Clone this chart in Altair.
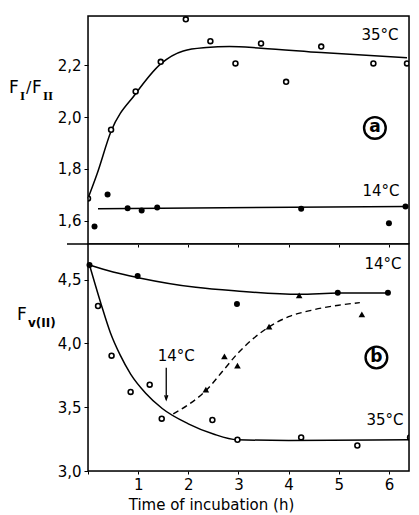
import altair as alt
import pandas as pd

FONT = "DejaVu Sans"

# ---------------- top panel : F_I / F_II ----------------
top35_t = [0.0, 0.46, 0.95, 1.45, 1.95, 2.44, 2.94, 3.45, 3.95, 4.65, 5.69, 6.36]
top35_v = [1.686, 1.951, 2.099, 2.213, 2.377, 2.293, 2.207, 2.284, 2.136, 2.272, 2.207, 2.207]
top14_t = [0.13, 0.39, 0.79, 1.07, 1.38, 4.25, 6.0, 6.33]
top14_v = [1.578, 1.701, 1.648, 1.639, 1.651, 1.646, 1.590, 1.655]
topc35_t = [0.0, 0.18, 0.46, 0.95, 1.45, 1.9, 2.36, 2.82, 3.45, 4.65, 6.36]
topc35_v = [1.686, 1.78, 1.945, 2.09, 2.205, 2.255, 2.268, 2.272, 2.266, 2.249, 2.229]
topc14_t = [0.2, 6.33]
topc14_v = [1.646, 1.655]
top_lab_t = [5.82, 5.84]
top_lab_v = [2.317, 1.716]
top_lab_s = ["35°C", "14°C"]
top_mark_t = [5.72]
top_mark_v = [1.958]
top_mark_s = ["a"]
top_yticks = [1.6, 1.7, 1.8, 1.9, 2.0, 2.1, 2.2, 2.3]

# ---------------- bottom panel : F_v(II) ----------------
bot14_t = [0.03, 0.99, 2.97, 4.98, 5.98]
bot14_v = [4.615, 4.529, 4.31, 4.398, 4.398]
tri_t = [2.35, 2.72, 2.98, 3.61, 4.21, 5.46]
tri_v = [3.638, 3.898, 3.826, 4.133, 4.377, 4.229]
bot35_t = [0.2, 0.47, 0.85, 1.23, 1.47, 2.48, 2.98, 4.25, 5.37, 6.42]
bot35_v = [4.294, 3.904, 3.62, 3.677, 3.41, 3.40, 3.245, 3.263, 3.20, 3.263]
botc14_t = [0.03, 0.5, 1.0, 2.15, 2.97, 4.21, 5.0, 6.0]
botc14_v = [4.615, 4.56, 4.516, 4.44, 4.411, 4.385, 4.395, 4.395]
botc35_t = [0.03, 0.26, 0.45, 0.64, 0.85, 1.15, 1.48, 2.0, 2.5, 2.97, 4.0, 6.44]
botc35_v = [4.615, 4.31, 4.08, 3.91, 3.76, 3.61, 3.49, 3.37, 3.29, 3.245, 3.24, 3.245]
dash_t = [1.7, 2.0, 2.35, 2.7, 2.98, 3.3, 3.61, 4.0, 4.45, 5.0, 5.42]
dash_v = [3.448, 3.52, 3.63, 3.79, 3.92, 4.04, 4.13, 4.21, 4.26, 4.30, 4.32]
arrow_t = [1.56]
arrow_v1 = [3.81]
arrow_v2 = [3.56]
bot_lab_t = [5.88, 5.92, 1.76]
bot_lab_v = [4.62, 3.396, 3.904]
bot_lab_s = ["14°C", "35°C", "14°C"]
bot_mark_t = [5.75]
bot_mark_v = [3.89]
bot_mark_s = ["b"]
bot_yticks = [3.0, 3.5, 4.0, 4.5]
xticks = [0, 1, 2, 3, 4, 5, 6]

W = 321
TOP_H = 228
BOT_H = 227
XDOM = [0, 6.4]

def df(t, v, **extra):
    d = pd.DataFrame({"t": t, "v": v})
    for k, val in extra.items():
        d[k] = val
    return d

one = pd.DataFrame({"a": [0]})

def frame(h):
    return alt.Chart(one).mark_rect(fill=None, filled=False, stroke="black", strokeWidth=1.5).encode(
        x=alt.value(0), x2=alt.value(W), y=alt.value(0), y2=alt.value(h))

def tmark(text, x, y, size, font=FONT, weight="normal"):
    return alt.Chart(one).mark_text(text=text, font=font, fontSize=size, fontWeight=weight,
                                    color="black", align="left", baseline="middle").encode(
        x=alt.value(x), y=alt.value(y))

# ---------- top panel ----------
xs_top = alt.X("t:Q", scale=alt.Scale(domain=XDOM, nice=False),
               axis=alt.Axis(values=xticks, labels=False, title=None, ticks=True,
                             tickSize=3, domain=False, tickColor="black", grid=False))
ys_top = alt.Y("v:Q", scale=alt.Scale(domain=[1.51, 2.39], nice=False, zero=False),
               axis=alt.Axis(values=top_yticks, title=None, domain=False, grid=False,
                             tickSize=4, tickColor="black", labelColor="black",
                             labelFont=FONT, labelFontSize=15, labelPadding=3,
                             labelExpr="round(datum.value*10) % 2 == 0 ? replace(format(datum.value, '.1f'), '.', ',') : ''"))

t_c35 = alt.Chart(df(topc35_t, topc35_v)).mark_line(
    color="black", strokeWidth=1.5, interpolate="monotone").encode(x=xs_top, y=ys_top)
t_c14 = alt.Chart(df(topc14_t, topc14_v)).mark_line(
    color="black", strokeWidth=1.5).encode(x="t:Q", y="v:Q")
t_p35 = alt.Chart(df(top35_t, top35_v)).mark_point(
    shape="circle", filled=True, fill="white", stroke="black", strokeWidth=1.6,
    size=24, opacity=1, clip=True).encode(x="t:Q", y="v:Q")
t_p14 = alt.Chart(df(top14_t, top14_v)).mark_point(
    shape="circle", filled=True, color="black", size=36, opacity=1, clip=True).encode(x="t:Q", y="v:Q")
t_lab = alt.Chart(pd.DataFrame({"t": top_lab_t, "v": top_lab_v, "s": top_lab_s})).mark_text(
    font=FONT, fontSize=15, color="black", align="center", baseline="middle").encode(
    x="t:Q", y="v:Q", text="s:N")
t_circ = alt.Chart(pd.DataFrame({"t": top_mark_t, "v": top_mark_v})).mark_point(
    shape="circle", filled=False, color="black", strokeWidth=2.4, size=470, opacity=1).encode(
    x="t:Q", y="v:Q")
t_circ_txt = alt.Chart(pd.DataFrame({"t": top_mark_t, "v": top_mark_v, "s": top_mark_s})).mark_text(
    font=FONT, fontSize=17, fontWeight="bold", color="black", align="center",
    baseline="middle", dy=-1).encode(x="t:Q", y="v:Q", text="s:N")
t_div = alt.Chart(one).mark_rule(color="black", strokeWidth=1.5).encode(
    x=alt.value(-21), x2=alt.value(0), y=alt.value(TOP_H))

t_title = (tmark("F", -79, 72, 17) + tmark("I", -68, 80, 13, "Liberation Serif", "bold")
           + tmark("/", -62, 72, 16) + tmark("F", -56, 72, 17)
           + tmark("II", -45, 80, 13, "Liberation Serif", "bold"))

top = alt.layer(t_c35, t_c14, t_p35, t_p14, t_lab, t_circ, t_circ_txt, t_div, frame(TOP_H),
                t_title).properties(width=W, height=TOP_H)

# ---------- bottom panel ----------
xs_bot = alt.X("t:Q", scale=alt.Scale(domain=XDOM, nice=False),
               axis=alt.Axis(values=xticks, title="Time of incubation (h)", domain=False,
                             grid=False, tickSize=3, tickColor="black", labelColor="black",
                             labelFont=FONT, labelFontSize=15, labelPadding=3,
                             labelExpr="datum.value == 0 ? '' : datum.label",
                             titleFont=FONT, titleFontSize=15, titleFontWeight="normal",
                             titleColor="black", titleX=123, titleAlign="center",
                             titlePadding=5))
ys_bot = alt.Y("v:Q", scale=alt.Scale(domain=[3.0, 4.78], nice=False, zero=False),
               axis=alt.Axis(values=bot_yticks, title=None, domain=False, grid=False,
                             tickSize=4, tickColor="black", labelColor="black",
                             labelFont=FONT, labelFontSize=15, labelPadding=3,
                             labelExpr="replace(format(datum.value, '.1f'), '.', ',')"))

b_c14 = alt.Chart(df(botc14_t, botc14_v)).mark_line(
    color="black", strokeWidth=1.5, interpolate="monotone").encode(x=xs_bot, y=ys_bot)
b_c35 = alt.Chart(df(botc35_t, botc35_v)).mark_line(
    color="black", strokeWidth=1.5, interpolate="monotone", clip=True).encode(x="t:Q", y="v:Q")
b_dash = alt.Chart(df(dash_t, dash_v)).mark_line(
    color="black", strokeWidth=1.4, strokeDash=[6, 4], interpolate="monotone").encode(x="t:Q", y="v:Q")
b_p14 = alt.Chart(df(bot14_t, bot14_v)).mark_point(
    shape="circle", filled=True, color="black", size=36, opacity=1).encode(x="t:Q", y="v:Q")
b_tri = alt.Chart(df(tri_t, tri_v)).mark_point(
    shape="triangle-up", filled=True, color="black", size=44, opacity=1).encode(x="t:Q", y="v:Q")
b_p35 = alt.Chart(df(bot35_t, bot35_v)).mark_point(
    shape="circle", filled=True, fill="white", stroke="black", strokeWidth=1.6,
    size=24, opacity=1, clip=True).encode(x="t:Q", y="v:Q")
b_arrow = alt.Chart(pd.DataFrame({"t": arrow_t, "v": arrow_v1, "v2": arrow_v2})).mark_rule(
    color="black", strokeWidth=1.3).encode(x="t:Q", y="v:Q", y2="v2:Q")
b_head = alt.Chart(pd.DataFrame({"t": arrow_t, "v": arrow_v2})).mark_point(
    shape="M-0.5,-1.4L0,0L0.5,-1.4", filled=False, color="black", strokeWidth=1.3,
    size=40, opacity=1).encode(x="t:Q", y="v:Q")
b_lab = alt.Chart(pd.DataFrame({"t": bot_lab_t, "v": bot_lab_v, "s": bot_lab_s})).mark_text(
    font=FONT, fontSize=15, color="black", align="center", baseline="middle").encode(
    x="t:Q", y="v:Q", text="s:N")
b_circ = alt.Chart(pd.DataFrame({"t": bot_mark_t, "v": bot_mark_v})).mark_point(
    shape="circle", filled=False, color="black", strokeWidth=2.4, size=470, opacity=1).encode(
    x="t:Q", y="v:Q")
b_circ_txt = alt.Chart(pd.DataFrame({"t": bot_mark_t, "v": bot_mark_v, "s": bot_mark_s})).mark_text(
    font=FONT, fontSize=17, fontWeight="bold", color="black", align="center",
    baseline="middle", dy=-1).encode(x="t:Q", y="v:Q", text="s:N")

b_title = tmark("F", -71, 71, 17) + tmark("v(II)", -60, 79, 12, FONT, "bold")

bottom = alt.layer(b_c14, b_c35, b_dash, b_arrow, b_head, b_p14, b_tri, b_p35, b_lab,
                   b_circ, b_circ_txt, frame(BOT_H), b_title).properties(width=W, height=BOT_H)

chart = alt.vconcat(top, bottom, spacing=0, bounds="flush").properties(
    padding={"left": 0, "top": 6, "right": 0, "bottom": 0}
).configure_view(stroke=None).configure(background="white")

chart.save("out.html", embed_options={"renderer": "svg", "actions": False})
